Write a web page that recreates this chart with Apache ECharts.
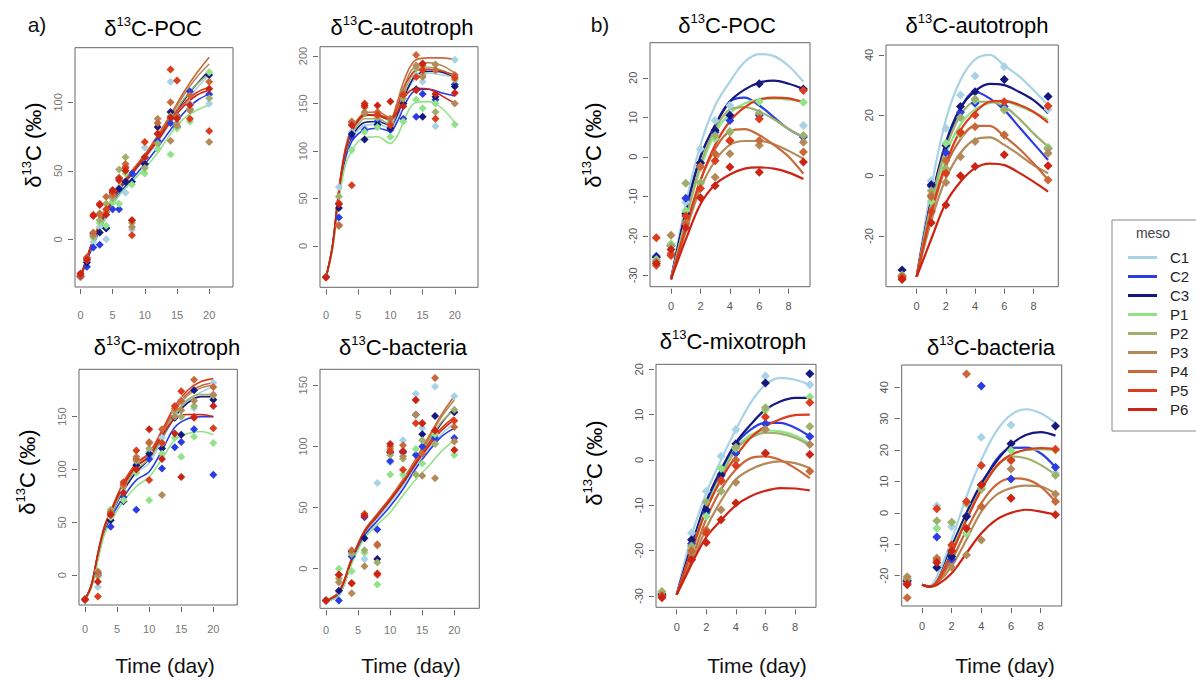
<!DOCTYPE html>
<html><head><meta charset="utf-8">
<script src="https://cdn.jsdelivr.net/npm/echarts@6/dist/echarts.min.js"></script>
<style>html,body{margin:0;padding:0;background:#fff}#c{width:1196px;height:680px}</style>
</head><body><div id="c"></div>
<script>
const SERIES_NAMES = ['C1','C2','C3','P1','P2','P3','P4','P5','P6'];
const SERIES_COLORS = ['#a8d2e6','#2a3ce2','#15187e','#92e28a','#9db16c','#b38b5b','#c8693b','#dc3d1c','#cc2414'];

// ---------- a) δ13C-POC ----------
const aPocXTicks = [0,5,10,15,20];
const aPocYTicks = [0,50,100];
const aPocLineDays = [0,2,4,6,8,10,12,14,16,18,20];
const aPocLines = [
  [-28,-3,18,35,47,59,71,85,98,110,120],
  [-28,-4,17,33,44,55,67,80,92,101,106],
  [-28,-2,19,36,48,60,73,87,101,113,123],
  [-26,-2,17,32,42,52,63,77,88,94,98],
  [-28,-1,20,37,49,61,74,88,102,113,121],
  [-28,0,22,38,50,62,75,90,105,118,128],
  [-28,0,22,38,50,62,76,91,107,121,133],
  [-28,0,21,37,49,61,74,88,99,107,111],
  [-28,-1,20,37,48,60,72,86,97,105,109]
];
const aPocPtDays = [0,1,2,3,4,5,6,7,8,10,12,14,15,17,20];
const aPocPts = [
  [-28,-16,-2,9,0,30,38,34,7,67,66,115,90,99,99],
  [-27,-20,-6,-4,8,22,22,42,48,55,72,85,82,108,106],
  [-27,-17,4,5,8,34,37,42,42,55,82,93,90,95,120],
  [-26,-14,1,12,10,27,26,48,40,48,66,62,81,86,122],
  [-27,-15,2,14,26,30,51,60,12,52,70,90,85,95,103],
  [-26,-14,3,19,20,32,45,53,9,60,88,72,83,94,71],
  [-26,-13,5,18,31,33,45,55,14,60,85,100,90,105,115],
  [-27,-14,18,26,22,35,43,52,3,71,77,124,116,88,79],
  [-25,-15,17,25,18,36,44,50,14,60,77,89,88,98,110]
];

// ---------- a) δ13C-autotroph ----------
const aAutXTicks = [0,5,10,15,20];
const aAutYTicks = [0,50,100,150,200];
const aAutLineDays = [0,1,2,3,4,5,6,8,10,11,12,13,14,16,18,20];
const aAutLines = [
  [-33,-2,55,95,113,122,127,128,124,135,152,168,177,182,180,178],
  [-33,-3,52,92,110,118,122,124,121,130,145,158,164,165,161,158],
  [-33,-2,55,97,115,125,130,131,127,137,155,170,180,184,183,178],
  [-33,-5,48,85,100,110,114,115,108,115,130,145,151,152,145,130],
  [-33,-2,56,98,118,128,134,134,128,140,160,175,185,188,185,178],
  [-33,-1,58,100,120,131,137,138,132,145,165,182,190,193,190,182],
  [-33,0,60,103,124,134,140,141,135,150,172,188,196,198,198,196],
  [-33,0,58,100,122,132,138,138,134,145,165,178,185,186,184,180],
  [-33,0,58,100,121,132,138,137,133,140,155,163,166,165,158,150]
];
const aAutPtDays = [0,2,4,6,8,10,12,14,15,17,20];
const aAutPts = [
  [-32,62,120,124,130,132,150,180,173,126,196],
  [-33,30,115,122,131,122,134,136,160,154,170],
  [-33,40,118,112,128,124,150,165,136,157,168],
  [-33,45,101,120,125,115,131,154,145,150,128],
  [-33,52,128,141,135,130,155,187,180,141,175],
  [-33,21,130,140,140,128,164,190,178,191,150],
  [-33,22,131,146,141,134,160,201,190,185,180],
  [-33,45,64,150,138,127,159,178,185,134,177],
  [-33,44,127,148,148,152,147,164,192,160,161]
];

// ---------- a) δ13C-mixotroph ----------
const aMixXTicks = [0,5,10,15,20];
const aMixYTicks = [0,50,100,150];
const aMixLineDays = [0,1,2,3,4,6,8,10,12,14,16,18,20];
const aMixLines = [
  [-23,-10,18,42,57,80,97,106,128,150,165,173,178],
  [-23,-11,16,40,54,74,90,98,118,140,148,150,150],
  [-23,-10,18,43,57,80,98,110,130,150,163,169,169],
  [-23,-12,14,38,51,70,84,93,110,128,134,136,133],
  [-23,-10,19,43,57,82,100,110,130,152,166,171,171],
  [-23,-9,20,45,60,85,103,113,133,155,170,177,180],
  [-23,-9,20,45,60,86,105,115,135,157,172,179,182],
  [-23,-9,21,46,61,88,106,116,137,160,175,183,186],
  [-23,-9,20,45,60,85,103,112,132,148,152,152,150]
];
const aMixPtDays = [0,2,4,6,8,10,12,14,15,17,20];
const aMixPts = [
  [-23,-11,58,80,105,117,130,152,166,158,182],
  [-23,2,46,74,62,110,101,121,126,138,95],
  [-23,0,52,70,104,115,120,149,133,175,166],
  [-23,4,55,71,97,71,115,130,112,131,125],
  [-23,-1,62,84,108,120,125,155,150,160,170],
  [-23,0,60,85,112,126,76,150,156,165,171],
  [-23,3,59,86,110,125,138,158,165,185,178],
  [-23,-20,58,88,118,90,125,160,174,150,139],
  [-23,-6,57,78,100,138,110,134,93,149,160]
];

// ---------- a) δ13C-bacteria ----------
const aBacXTicks = [0,5,10,15,20];
const aBacYTicks = [0,50,100,150];
const aBacLineDays = [0,2,4,6,8,10,12,14,16,18,20];
const aBacLines = [
  [-26,-22,6,28,41,54,68,84,98,110,119],
  [-26,-22,5,27,39,51,65,82,96,108,115],
  [-26,-20,7,30,43,56,70,86,103,119,131],
  [-26,-22,4,25,36,46,60,73,84,96,105],
  [-26,-20,7,30,43,56,71,87,104,120,130],
  [-26,-19,8,31,44,57,72,88,106,124,138],
  [-26,-19,8,31,45,58,73,90,108,126,141],
  [-26,-19,8,31,44,57,71,87,102,115,124],
  [-26,-20,7,30,43,56,70,86,100,113,122]
];
const aBacPtDays = [0,2,4,6,8,10,12,14,15,17,20];
const aBacPts = [
  [-26,-19,13,8,70,87,105,143,115,149,141],
  [-26,-26,10,42,32,88,95,93,100,107,107],
  [-26,-18,14,25,8,95,96,126,110,125,128],
  [-26,0,-2,13,-13,77,77,98,86,110,93],
  [-26,-8,12,15,5,93,90,77,105,102,130],
  [-26,-11,-20,2,19,98,92,126,76,74,104],
  [-26,-5,15,45,20,100,101,138,94,156,116],
  [-26,-5,-12,44,-5,96,81,119,119,113,121],
  [-26,-5,-12,43,-4,102,96,138,119,113,97]
];

// ---------- b) δ13C-POC ----------
const bPocXTicks = [0,2,4,6,8];
const bPocYTicks = [-30,-20,-10,0,10,20];
const bPocLineDays = [0,1,2,3,4,5,6,7,8,9];
const bPocLines = [
  [-31,-12,3,13,19,24,26,25.5,23,19],
  [-31,-14,0,8,14,15,13,10,7,5],
  [-31,-14,0,8,14,17,18.8,19.3,18.5,17.2],
  [-31,-16,-3,6,11,13.5,14.5,14.7,14.5,14],
  [-31,-16,-2,7,12,12.6,11.5,9.5,7,5],
  [-31,-19,-8,-1,3,4,4,3.2,1.5,-0.5],
  [-31,-18,-6,2,6.5,7,5.5,3,0,-4.3],
  [-31,-18,-6,3,9,12.5,14.5,15,14.8,13.8],
  [-31,-21,-12,-7,-4.5,-3,-2.7,-3,-4,-5.6]
];
const bPocPtDays = [-1,0,1,2,3,4,6,9];
const bPocPts = [
  [-26.2,-22.5,-11.5,2,9.2,13,11,7.9],
  [-25.2,-22.4,-10.5,-1.5,6.2,9.2,10.5,5],
  [-25.5,-22.5,-14.4,-1.6,6.7,10.5,18.5,17.2],
  [-26,-22,-13.6,-6.8,4.6,6.5,14,13.8],
  [-26.5,-22.5,-6.7,-6.5,5.4,6.2,11,5.4],
  [-26.5,-19.9,-16.5,-2.6,-5.2,0.8,2.9,3.7],
  [-27.5,-24.5,-17,-2.4,0.8,4,4.1,1.2],
  [-20.5,-25,-15,-8,-1,4.1,9.6,16.8],
  [-27,-23.5,-18,-10.4,-7.3,-2.6,-3.9,-1.3]
];

// ---------- b) δ13C-autotroph ----------
const bAutXTicks = [0,2,4,6,8];
const bAutYTicks = [-20,0,20,40];
const bAutLineDays = [0,1,2,3,4,5,6,7,8,9];
const bAutLines = [
  [-33.5,-4,18.5,31.7,38.5,40,36.5,33,28.4,23.4],
  [-33.5,-8,10,22,27.8,25.6,21.8,16.2,10.7,5.2],
  [-33.5,-8,11,22.5,28,30.4,30,27.8,25,20.7],
  [-33.5,-11,7,17,22,24,24.5,23,21,18.5],
  [-33.5,-9,9,20,24.5,24.5,22.9,19,14,9.6],
  [-33.5,-15,-1,7.5,12,12.7,10.2,7,3.5,0.8],
  [-33.5,-13,3,12,16.5,16.5,13,9,4.1,-1.4],
  [-33.5,-12,4,15,21,24.5,24.8,23.5,21.2,17.6],
  [-33.5,-21,-9,-2,2.5,4,3.5,1,-2,-5.3]
];
const bAutPtDays = [-1,1,2,3,4,6,9];
const bAutPts = [
  [-33,-1.7,15.7,26.7,33,36.1,22],
  [-33,-3.4,7.7,21,24,22.9,9],
  [-31.3,-3,10,22.9,27.8,31.9,26.2],
  [-33,-8.6,10.7,13.5,25,22,9.4],
  [-33,-5,2.4,19.3,25.4,21.8,9],
  [-33.5,-6.4,-2.3,6.3,11.3,13.5,7.4],
  [-33.5,-7,5,14,16.2,13.5,-1.4],
  [-33.8,-11.9,0.8,14.5,20.1,24.5,23.1],
  [-34.4,-15.6,-9.7,0,3,6.9,3.3]
];

// ---------- b) δ13C-mixotroph ----------
const bMixXTicks = [0,2,4,6,8];
const bMixYTicks = [-30,-20,-10,0,10,20];
const bMixLineDays = [0,1,2,3,4,5,6,7,8,9];
const bMixLines = [
  [-29.7,-16.8,-7.3,0,6.7,12.6,16.6,18.1,17.7,16.6],
  [-29.7,-19,-10,-3,3.4,6.7,8.2,8.2,7.1,5.2],
  [-29.7,-19,-9.1,-2.1,3.8,7.8,11.1,12.9,13.7,13.7],
  [-29.7,-20,-10.5,-3.5,2.6,5.5,6.5,6.3,5.4,3.6],
  [-29.7,-20.5,-11,-4,2.3,4.9,6,5.8,4.9,3.2],
  [-29.7,-23,-15,-9,-4.3,-2.1,-0.8,-0.3,-0.7,-1.8],
  [-29.7,-22,-13,-6.5,-2.1,0.4,0.8,0,-1.8,-4],
  [-29.7,-20,-11,-4.3,0.8,4.9,7.4,9,9.9,10],
  [-29.7,-23,-17,-13.3,-10,-8,-6.8,-6.2,-6.3,-6.7]
];
const bMixPtDays = [-1,1,2,3,4,6,9];
const bMixPts = [
  [-29.5,-16.1,-6.9,0.8,6.7,18.5,16.6],
  [-29.5,-18.5,-11.5,-3.5,1.5,8,5.2],
  [-29.7,-17.6,-11,-3.2,3.6,17,19],
  [-29.2,-19.8,-12.4,-1.9,2.5,11,13.9],
  [-29,-19,-9.3,-6.9,2.8,11.5,7.4],
  [-30,-20.5,-15.5,-11,-4.9,6.7,3.4],
  [-30,-20,-15.5,-4.7,0,1.5,-2.5],
  [-30,-22,-16.1,-4.5,-1.2,9.5,12.7],
  [-30.4,-22,-18.2,-13.2,-9.5,1.5,1.2]
];

// ---------- b) δ13C-bacteria ----------
const bBacXTicks = [0,2,4,6,8];
const bBacYTicks = [-20,-10,0,10,20,30,40];
const bBacLineDays = [0,0.5,1,2,3,4,5,6,7,8,9];
const bBacLines = [
  [-22.9,-23.3,-20.3,-8.6,5.2,16.9,25.9,31.2,33,31.7,28.6],
  [-22.9,-23.5,-22,-13,-0.6,8.4,16.9,20.6,20.8,19,14.5],
  [-22.9,-23.5,-22,-10.7,0,9.4,16.3,21.7,24.8,25.7,24.6],
  [-22.9,-23.5,-22,-12,-1.5,7.5,14.5,18.5,20,20.2,20],
  [-22.9,-23.5,-22,-12.5,-2,7.9,14.8,18,17.4,15.3,12.1],
  [-22.9,-23.5,-22.5,-17,-8.5,0.4,5.7,7.9,8.7,8.4,6.1],
  [-22.9,-23.5,-22.3,-15,-5.5,3.1,8.9,11,10.7,8.4,3.6],
  [-22.9,-23.5,-22,-12.8,-2.2,7.3,14.8,18.5,20.1,20.6,20.3],
  [-22.9,-23.5,-23,-19.2,-12.8,-6.5,-2.2,0,1,0.4,-0.6]
];
const bBacPtDays = [-1,1,2,3,4,6,9];
const bBacPts = [
  [-21.5,2.3,-4.4,-6.5,24.1,28,12.6],
  [-21.9,-7.7,-14.8,-1,40.4,10.8,14.5],
  [-21.5,-17.4,-13.9,-1.2,9,22,27.7],
  [-21,-4.9,-3,-6.5,8,19.9,20],
  [-21,-2.5,-3,3,7.5,17,12],
  [-20.3,-14.4,-17.3,-13.4,-8.6,14,6],
  [-27,-15,-12,44.2,2,4.7,3.6],
  [-22.5,1.3,-10.2,3.6,15.1,16.7,20.3],
  [-22.9,-15.8,-12.1,-5,8.9,4.7,-0.6]
];

// ---------- layout (pixel boxes and padded axis ranges) ----------
const FONT = "'Liberation Sans', Arial, sans-serif";
const NARROW = "'Liberation Sans Narrow', 'Liberation Sans', Arial, sans-serif";
const PANELS = [
  {name:'POC', box:[75,47.7,233,287], xr:[-0.85,23.7], yr:[-34.8,139.9], xt:aPocXTicks, yt:aPocYTicks, ld:aPocLineDays, lv:aPocLines, pd:aPocPtDays, pv:aPocPts, xm:20, lc:'#777', lw:1.6, ss:8, tpos:[153,28]},
  {name:'autotroph', box:[320,46.7,478,287.3], xr:[-0.93,23.6], yr:[-43.5,209.8], xt:aAutXTicks, yt:aAutYTicks, ld:aAutLineDays, lv:aAutLines, pd:aAutPtDays, pv:aAutPts, xm:20, lc:'#777', lw:1.6, ss:8, tpos:[402,27]},
  {name:'mixotroph', box:[79,369.3,237.3,605], xr:[-0.94,23.74], yr:[-28.1,194.8], xt:aMixXTicks, yt:aMixYTicks, ld:aMixLineDays, lv:aMixLines, pd:aMixPtDays, pv:aMixPts, xm:16, lc:'#777', lw:1.6, ss:8, tpos:[167,347]},
  {name:'bacteria', box:[320,369.3,479.3,608.3], xr:[-0.94,23.9], yr:[-32.4,163.1], xt:aBacXTicks, yt:aBacYTicks, ld:aBacLineDays, lv:aBacLines, pd:aBacPtDays, pv:aBacPts, xm:14, lc:'#777', lw:1.6, ss:8, tpos:[403,347]},
  {name:'POC', box:[650,42.7,810,286.7], xr:[-1.43,9.45], yr:[-32.9,28.9], xt:bPocXTicks, yt:bPocYTicks, ld:bPocLineDays, lv:bPocLines, pd:bPocPtDays, pv:bPocPts, xm:12, lc:'#555', lw:2.2, ss:9, tpos:[727,25]},
  {name:'autotroph', box:[886,45,1058.3,286.7], xr:[-2.1,9.7], yr:[-36.8,43.3], xt:bAutXTicks, yt:bAutYTicks, ld:bAutLineDays, lv:bAutLines, pd:bAutPtDays, pv:bAutPts, xm:12, lc:'#555', lw:2.2, ss:9, tpos:[977,25]},
  {name:'mixotroph', box:[656,364.3,816,607.3], xr:[-1.4,9.42], yr:[-32.5,21.1], xt:bMixXTicks, yt:bMixYTicks, ld:bMixLineDays, lv:bMixLines, pd:bMixPtDays, pv:bMixPts, xm:12, lc:'#555', lw:2.2, ss:9, tpos:[733,341]},
  {name:'bacteria', box:[901.7,365,1061.7,606], xr:[-1.37,9.42], yr:[-29.65,47.1], xt:bBacXTicks, yt:bBacYTicks, ld:bBacLineDays, lv:bBacLines, pd:bBacPtDays, pv:bBacPts, xm:12, lc:'#555', lw:2.2, ss:9, tpos:[991,347]}
];

const RICH = {
  n: {fontSize: 22, fontFamily: FONT, color: '#111', lineHeight: 26},
  s: {fontSize: 13, fontFamily: FONT, color: '#111', lineHeight: 14, verticalAlign: 'top'}
};

const grids = [], xAxes = [], yAxes = [], series = [], graphics = [];
PANELS.forEach((p) => {
  const [l, t, r, b] = p.box;
  const W = r - l, H = b - t;
  const gi = grids.length;
  grids.push({left: l, top: t, width: W, height: H, show: true, borderColor: '#666', borderWidth: 1,
    backgroundColor: 'transparent', containLabel: false, outerBoundsMode: 'none'});
  xAxes.push({gridIndex: gi, type: 'value', min: p.xr[0], max: p.xr[1], show: false});
  yAxes.push({gridIndex: gi, type: 'value', min: p.yr[0], max: p.yr[1], show: false});
  const xt = p.xt, yt = p.yt;
  const sx = v => l + (v - p.xr[0]) / (p.xr[1] - p.xr[0]) * W;
  const sy = v => t + (p.yr[1] - v) / (p.yr[1] - p.yr[0]) * H;
  const gx0 = sx(xt[0]), gx1 = sx(xt[xt.length - 1]);
  const gyTop = sy(yt[yt.length - 1]), gyBot = sy(yt[0]);
  grids.push({left: gx0, top: gyTop, width: gx1 - gx0, height: gyBot - gyTop, show: false,
    containLabel: false, outerBoundsMode: 'none'});
  xAxes.push({gridIndex: gi + 1, type: 'value', min: xt[0], max: xt[xt.length - 1], interval: xt[1] - xt[0],
    position: 'bottom', offset: b - gyBot + 2,
    axisLine: {show: false, onZero: false}, splitLine: {show: false},
    axisTick: {show: true, length: 5, lineStyle: {color: '#666', width: 1}},
    axisLabel: {margin: p.xm, fontSize: 11, color: p.lc, fontFamily: NARROW, hideOverlap: false}});
  yAxes.push({gridIndex: gi + 1, type: 'value', min: yt[0], max: yt[yt.length - 1], interval: yt[1] - yt[0],
    position: 'left', offset: gx0 - l + 2,
    axisLine: {show: false, onZero: false}, splitLine: {show: false},
    axisTick: {show: true, length: 5, lineStyle: {color: '#666', width: 1}},
    axisLabel: {rotate: 90, margin: 10, fontSize: 11, color: p.lc, fontFamily: NARROW, hideOverlap: false}});

  SERIES_NAMES.forEach((nm, k) => {
    series.push({type: 'line', name: nm, xAxisIndex: gi, yAxisIndex: gi,
      data: p.ld.map((d, j) => [d, p.lv[k][j]]),
      smooth: 0.35, showSymbol: false, symbol: 'none', silent: true, animation: false, z: 2,
      color: SERIES_COLORS[k], itemStyle: {color: SERIES_COLORS[k]},
      lineStyle: {width: p.lw, color: SERIES_COLORS[k]}});
  });
  SERIES_NAMES.forEach((nm, k) => {
    series.push({type: 'scatter', name: nm, xAxisIndex: gi, yAxisIndex: gi,
      data: p.pd.map((d, j) => p.pv[k][j] == null ? null : [d, p.pv[k][j]]).filter(Boolean),
      symbol: 'diamond', symbolSize: p.ss, silent: true, animation: false, z: 3,
      itemStyle: {color: SERIES_COLORS[k], opacity: 1}});
  });

  graphics.push({type: 'text', x: p.tpos[0], y: p.tpos[1], silent: true,
    style: {text: '{n|δ}{s|13}{n|C-' + p.name + '}', rich: RICH, textAlign: 'center', textVerticalAlign: 'middle'}});
});

// y axis titles
[[33,145],[27,472],[593,145],[594,463]].forEach(([x, y]) => {
  graphics.push({type: 'text', x: x, y: y, rotation: Math.PI / 2, silent: true,
    style: {text: '{n|δ}{s|13}{n|C (‰)}', rich: RICH, textAlign: 'center', textVerticalAlign: 'middle'}});
});
// x axis titles
[[165,665],[411,665],[757,665],[1005,665]].forEach(([x, y]) => {
  graphics.push({type: 'text', x: x, y: y, silent: true,
    style: {text: 'Time (day)', font: '21px ' + FONT, fill: '#111', textAlign: 'center', textVerticalAlign: 'middle'}});
});
graphics.push({type: 'text', x: 37, y: 24, silent: true,
  style: {text: 'a)', font: '21px ' + FONT, fill: '#111', textAlign: 'center', textVerticalAlign: 'middle'}});
graphics.push({type: 'text', x: 600, y: 24, silent: true,
  style: {text: 'b)', font: '21px ' + FONT, fill: '#111', textAlign: 'center', textVerticalAlign: 'middle'}});
graphics.push({type: 'text', x: 1153, y: 233, silent: true,
  style: {text: 'meso', font: '14px ' + FONT, fill: '#444', textAlign: 'center', textVerticalAlign: 'middle'}});

const chart = echarts.init(document.getElementById('c'), null, {renderer: 'svg', width: 1196, height: 680});
chart.setOption({
  animation: false,
  backgroundColor: '#fff',
  grid: grids,
  xAxis: xAxes,
  yAxis: yAxes,
  legend: {
    orient: 'vertical', left: 1112, top: 220, padding: [30, 60, 14, 16],
    itemGap: 4, itemWidth: 29, itemHeight: 3, icon: 'rect', selectedMode: false,
    borderColor: '#888', borderWidth: 1,
    textStyle: {fontSize: 15, lineHeight: 15, color: '#222', fontFamily: FONT, padding: [0, 0, 0, 8]},
    data: SERIES_NAMES
  },
  series: series,
  graphic: graphics
});
</script>
</body></html>
